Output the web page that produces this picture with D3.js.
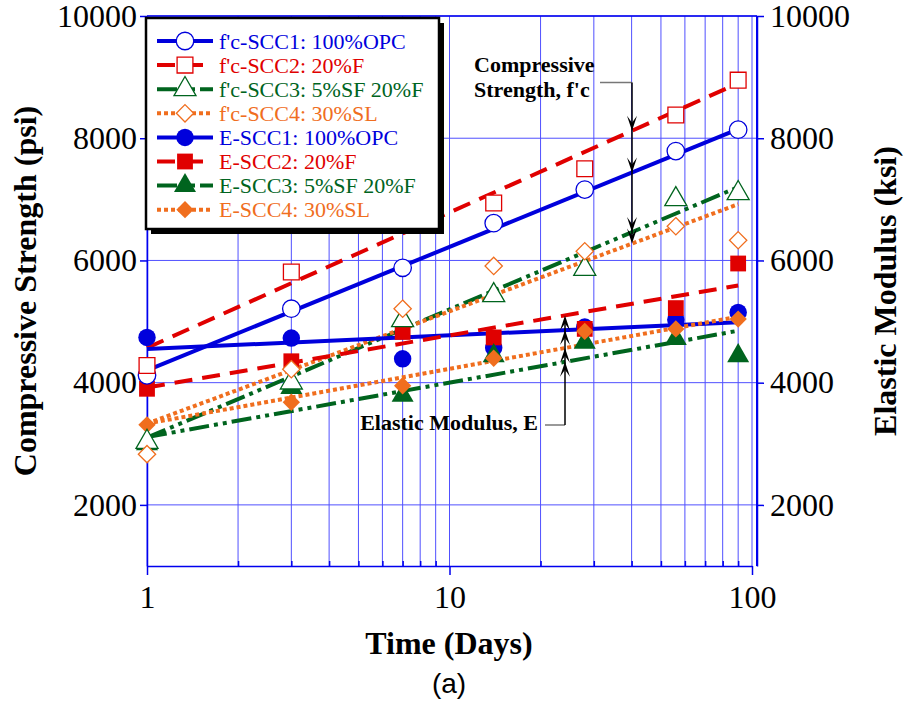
<!DOCTYPE html>
<html>
<head>
<meta charset="utf-8">
<script src="https://cdn.jsdelivr.net/npm/d3@7"></script>
<style>
  body { margin: 0; background: #fff; }
  text { font-family: "Liberation Serif", "Times New Roman", serif; }
</style>
</head>
<body>
<div class="d3-container"></div>
<script>
// test ages (days)
const days = [1, 3, 7, 14, 28, 56, 90];

// compressive strength f'c (psi)
const fcSCC1 = [4120, 5210, 5880, 6610, 7160, 7790, 8140];
const fcSCC2 = [4280, 5810, 6600, 6940, 7500, 8380, 8950];
const fcSCC3 = [3030, 4000, 5020, 5430, 5860, 7000, 7100];
const fcSCC4 = [2830, 4220, 5210, 5910, 6150, 6560, 6330];

// elastic modulus E (ksi)
const eSCC1 = [4740, 4730, 4390, 4570, 4910, 5030, 5150];
const eSCC2 = [3900, 4350, 4830, 4740, 4880, 5220, 5950];
const eSCC3 = [3000, 3920, 3790, 4440, 4660, 4720, 4440];
const eSCC4 = [3310, 3680, 3950, 4400, 4840, 4880, 5040];

// trend line ends at day 1 and day 90
const fitDays = [1, 90];
const fcFit1 = [4200, 8150];
const fcFit2 = [4570, 8900];
const fcFit3 = [3100, 7200];
const fcFit4 = [3330, 6920];
const eFit1 = [4550, 4990];
const eFit2 = [3920, 5590];
const eFit3 = [3110, 4850];
const eFit4 = [3330, 5080];

const yTicks = [2000, 4000, 6000, 8000, 10000];
const xTicks = [1, 10, 100];
const xGrid = [1, 2, 3, 4, 5, 6, 7, 8, 9, 10, 20, 30, 40, 50, 60, 70, 80, 90, 100];

const names = ["f'c-SCC1: 100%OPC", "f'c-SCC2: 20%F", "f'c-SCC3: 5%SF 20%F", "f'c-SCC4: 30%SL",
               "E-SCC1: 100%OPC", "E-SCC2: 20%F", "E-SCC3: 5%SF 20%F", "E-SCC4: 30%SL"];

const blue = "#0000dc", red = "#e00000", green = "#00641e", orange = "#f06e1e";
const gridColor = "#5050ff";

// square diamond (d3's own is too tall)
const symbolRhomb = {
    draw(context, size) {
        const r = Math.sqrt(size / 2);
        context.moveTo(0, -r);
        context.lineTo(r, 0);
        context.lineTo(0, r);
        context.lineTo(-r, 0);
        context.closePath();
    }
};

const styles = [
    {color: blue, dash: null, shape: d3.symbolCircle, size: 240},
    {color: red, dash: "18,10", shape: d3.symbolSquare, size: 250},
    {color: green, dash: "20,5,4,5,4,5", shape: d3.symbolTriangle, size: 210},
    {color: orange, dash: "4,3", shape: symbolRhomb, size: 150}
];

const series = [
    {vals: fcSCC1, fit: fcFit1, s: 0, open: true},
    {vals: fcSCC2, fit: fcFit2, s: 1, open: true},
    {vals: fcSCC3, fit: fcFit3, s: 2, open: true},
    {vals: fcSCC4, fit: fcFit4, s: 3, open: true},
    {vals: eSCC1, fit: eFit1, s: 0, open: false},
    {vals: eSCC2, fit: eFit2, s: 1, open: false},
    {vals: eSCC3, fit: eFit3, s: 2, open: false},
    {vals: eSCC4, fit: eFit4, s: 3, open: false}
];

const W = 904, H = 710;
const plot = {left: 147, right: 752, top: 16, bottom: 566, rightAxis: 757};

const svg = d3.select(".d3-container").append("svg")
    .attr("width", W).attr("height", H)
    .style("display", "block");
svg.append("rect").attr("width", W).attr("height", H).attr("fill", "#fff");

const x = d3.scaleLog().domain([1, 100]).range([plot.left, plot.right]);
const y = d3.scaleLinear().domain([1000, 10000]).range([plot.bottom, plot.top]);

// grid
const grid = svg.append("g");
grid.selectAll(".vg").data(xGrid).join("line")
    .attr("x1", d => x(d)).attr("x2", d => x(d))
    .attr("y1", plot.top).attr("y2", plot.bottom)
    .attr("stroke", gridColor).attr("stroke-width", 1);
grid.selectAll(".hg").data(yTicks).join("line")
    .attr("x1", plot.left).attr("x2", plot.rightAxis)
    .attr("y1", d => y(d)).attr("y2", d => y(d))
    .attr("stroke", gridColor).attr("stroke-width", 1);

// axes
function styleAxis(g) {
    g.selectAll("path").attr("stroke", "#0000ee").attr("stroke-width", 1.5);
    g.selectAll("line").attr("stroke", "#0000ee").attr("stroke-width", 1.5);
    g.selectAll("text").attr("fill", "#000").style("font-size", "32px")
        .style("font-family", "'Liberation Serif', serif");
}

svg.append("g").attr("transform", `translate(${plot.left},0)`)
    .call(d3.axisLeft(y).tickValues(yTicks).tickFormat(d3.format("d")).tickSize(7).tickSizeOuter(0).tickPadding(3))
    .call(styleAxis);

svg.append("g").attr("transform", `translate(${plot.rightAxis},0)`)
    .call(d3.axisRight(y).tickValues(yTicks).tickFormat(d3.format("d")).tickSize(7).tickSizeOuter(0).tickPadding(6))
    .call(styleAxis);

svg.append("g").attr("transform", `translate(0,${plot.bottom})`)
    .call(d3.axisBottom(x).tickValues(xTicks).tickFormat(d3.format("d")).tickSize(9).tickSizeOuter(0).tickPadding(10))
    .call(styleAxis);

// minor ticks pointing into the plot
svg.append("g").attr("transform", `translate(0,${plot.bottom})`)
    .call(d3.axisTop(x).tickValues(xGrid.filter(d => xTicks.indexOf(d) < 0)).tickSize(5).tickFormat(""))
    .call(g => g.select(".domain").remove())
    .call(styleAxis);

// top frame and right axis line
svg.append("line").attr("x1", plot.left).attr("x2", plot.rightAxis)
    .attr("y1", plot.top).attr("y2", plot.top)
    .attr("stroke", "#0000ee").attr("stroke-width", 1.5);
svg.append("line").attr("x1", plot.rightAxis).attr("x2", plot.rightAxis)
    .attr("y1", plot.top).attr("y2", plot.bottom)
    .attr("stroke", "#0000ee").attr("stroke-width", 2);

// trend lines
const line = d3.line().x(d => x(d[0])).y(d => y(d[1]));
series.forEach(sr => {
    const st = styles[sr.s];
    svg.append("path")
        .datum(fitDays.map((d, i) => [d, sr.fit[i]]))
        .attr("d", line)
        .attr("fill", "none")
        .attr("stroke", st.color)
        .attr("stroke-width", 4)
        .attr("stroke-dasharray", st.dash);
});

// markers
function drawMarker(g, sr, cx, cy) {
    const st = styles[sr.s];
    g.append("path")
        .attr("d", d3.symbol().type(st.shape).size(st.size)())
        .attr("transform", `translate(${cx},${cy})`)
        .attr("fill", sr.open ? "#fff" : st.color)
        .attr("stroke", st.color)
        .attr("stroke-width", sr.open ? 1.3 : 0);
}
const marks = svg.append("g");
// elastic modulus first, then f'c on top
[4, 5, 6, 7, 0, 1, 2, 3].forEach(i => {
    const sr = series[i];
    days.forEach((d, j) => drawMarker(marks, sr, x(d), y(sr.vals[j])));
});

// annotations
function arrowHead(g, ax, ay, dir) {
    // dir = 1 points down, -1 points up
    g.append("path")
        .attr("d", `M${ax},${ay} L${ax - 5},${ay - dir * 15} L${ax},${ay - dir * 8} L${ax + 5},${ay - dir * 15} Z`)
        .attr("fill", "#000");
}
function fitAt(fit, d) {
    const t = Math.log(d) / Math.log(fitDays[1]);
    return fit[0] + (fit[1] - fit[0]) * t;
}
const ann = svg.append("g");
const fcDay = x.invert(632);
const fcTips = [fcFit2, fcFit1, fcFit3, fcFit4].map(f => y(fitAt(f, fcDay)));
ann.append("line").attr("x1", 600).attr("x2", 632).attr("y1", 82.5).attr("y2", 82.5)
    .attr("stroke", "#777").attr("stroke-width", 1.5);
ann.append("line").attr("x1", 632).attr("x2", 632).attr("y1", 82.5).attr("y2", d3.max(fcTips) - 4)
    .attr("stroke", "#000").attr("stroke-width", 1.5);
fcTips.forEach(t => arrowHead(ann, 632, t, 1));
ann.append("text").attr("x", 474).attr("y", 72).text("Compressive")
    .style("font-size", "22px").style("font-weight", "bold");
ann.append("text").attr("x", 474).attr("y", 97).text("Strength, f'c")
    .style("font-size", "22px").style("font-weight", "bold");

const eDay = x.invert(565);
const eTips = [eFit2, eFit1, eFit4, eFit3].map(f => y(fitAt(f, eDay)));
ann.append("line").attr("x1", 545).attr("x2", 565).attr("y1", 425).attr("y2", 425)
    .attr("stroke", "#777").attr("stroke-width", 1.5);
ann.append("line").attr("x1", 565).attr("x2", 565).attr("y1", 425).attr("y2", d3.min(eTips) + 4)
    .attr("stroke", "#000").attr("stroke-width", 1.5);
eTips.forEach(t => arrowHead(ann, 565, t, -1));
ann.append("text").attr("x", 538).attr("y", 430).attr("text-anchor", "end").text("Elastic Modulus, E")
    .style("font-size", "22px").style("font-weight", "bold");

// legend
const lg = svg.append("g");
const lgX = 146, lgY = 18, lgW = 293, lgH = 211;
lg.append("rect").attr("x", lgX + 5).attr("y", lgY + 5).attr("width", lgW).attr("height", lgH).attr("fill", "#000");
lg.append("rect").attr("x", lgX).attr("y", lgY).attr("width", lgW).attr("height", lgH)
    .attr("fill", "#fff").attr("stroke", "#000").attr("stroke-width", 2.5);
series.forEach((sr, i) => {
    const st = styles[sr.s];
    const ry = 41 + i * 24.1;
    lg.append("line").attr("x1", 157).attr("x2", 213).attr("y1", ry).attr("y2", ry)
        .attr("stroke", st.color).attr("stroke-width", 4).attr("stroke-dasharray", st.dash);
    drawMarker(lg, sr, 185, ry);
    lg.append("text").attr("x", 219).attr("y", ry + 7.5).text(names[i])
        .attr("fill", st.color).style("font-size", "22px");
});

// axis titles
svg.append("text").attr("transform", `translate(36,${(plot.top + plot.bottom) / 2}) rotate(-90)`)
    .attr("text-anchor", "middle").text("Compressive Strength (psi)")
    .style("font-size", "32px").style("font-weight", "bold");
svg.append("text").attr("transform", `translate(896,${(plot.top + plot.bottom) / 2}) rotate(-90)`)
    .attr("text-anchor", "middle").text("Elastic Modulus (ksi)")
    .style("font-size", "32px").style("font-weight", "bold");
svg.append("text").attr("x", 449).attr("y", 654).attr("text-anchor", "middle").text("Time (Days)")
    .style("font-size", "32px").style("font-weight", "bold");
svg.append("text").attr("x", 449).attr("y", 693).attr("text-anchor", "middle").text("(a)")
    .style("font-size", "28px").style("font-family", "'Liberation Sans', Arial, sans-serif");
</script>
</body>
</html>
